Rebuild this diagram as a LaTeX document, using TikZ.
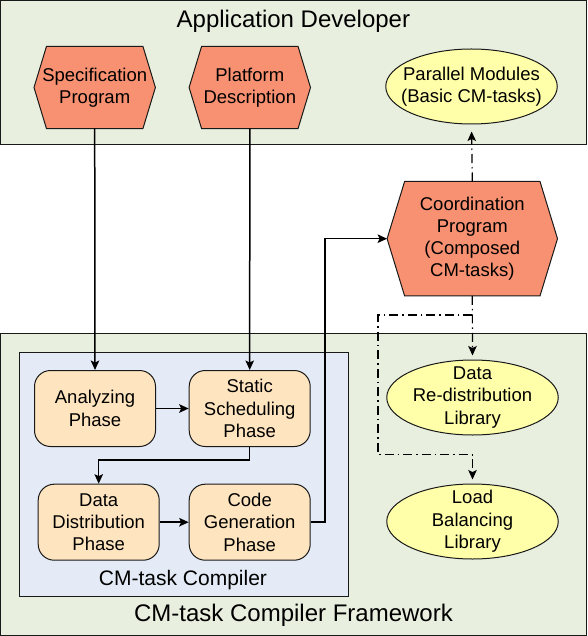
\documentclass[tikz,border=0pt]{standalone}
\usepackage{fontspec}
\setmainfont{Liberation Sans}
\usetikzlibrary{arrows.meta,calc,shapes.geometric}
\definecolor{panelfill}{RGB}{233,239,223}
\definecolor{compfill}{RGB}{228,235,246}
\definecolor{phasefill}{RGB}{255,229,191}
\definecolor{hexfill}{RGB}{248,145,113}
\definecolor{ellfill}{RGB}{255,255,170}
\definecolor{linecol}{RGB}{25,25,25}
\pgfdeclarelayer{panels}
\pgfdeclarelayer{hexl}
\pgfsetlayers{panels,hexl,main}
\newcommand\myhex[2]{%
  \begin{pgfonlayer}{hexl}
  \draw[hexline] (#1.west) -- ([xshift=#2pt]#1.north west) -- ([xshift=-#2pt]#1.north east)
    -- (#1.east) -- ([xshift=-#2pt]#1.south east) -- ([xshift=#2pt]#1.south west) -- cycle;
  \end{pgfonlayer}}
\begin{document}
\begin{tikzpicture}[x=1pt,y=-1pt,
  txt/.style={font=\fontsize{18.5}{22.3}\selectfont, align=center, inner sep=0pt, text=black},
  hexline/.style={draw=linecol, line width=1pt, fill=hexfill},
  panel/.style={draw=linecol, line width=1pt, fill=panelfill},
  phase/.style={txt, draw=linecol, line width=1pt, fill=phasefill, rounded corners=16pt,
    minimum width=121pt, minimum height=76pt},
  ell/.style={txt, ellipse, draw=linecol, line width=1pt, fill=ellfill,
    minimum width=171.5pt, minimum height=75pt, inner xsep=-10pt, inner ysep=-5pt},
  tip/.style={-{Stealth[length=9.5pt,width=8.5pt,inset=2pt]}},
  conn/.style={draw=black, line width=1.5pt, tip},
  dashdot/.style={draw=black, line width=1.2pt, dash pattern=on 9pt off 4pt on 1.5pt off 4pt},
]
\useasboundingbox (0,0) rectangle (587,636);
\begin{pgfonlayer}{panels}
  \path[panel] (0.5,0.5) rectangle (586.3,144.5);
  \path[panel] (0.5,333.3) rectangle (586.3,635.3);
  \path[draw=linecol, line width=1pt, fill=compfill] (19.3,352.7) rectangle (348.3,596.7);
\end{pgfonlayer}

% titles
\node[txt, font=\fontsize{24}{28}\selectfont, anchor=base] (apptitle) at (293.4,28) {Application Developer};
\node[txt, font=\fontsize{24}{28}\selectfont, anchor=base] (fwtitle) at (293.5,621.7) {CM-task Compiler Framework};
\node[txt, font=\fontsize{21}{25}\selectfont, anchor=base] (comptitle) at (183,585) {CM-task Compiler};

% hexagons
\node[txt, minimum width=121pt, minimum height=82pt] (spec) at (94.7,87.5) {Specification\\Program};
\myhex{spec}{12.5}
\node[txt, minimum width=121pt, minimum height=82pt] (plat) at (249.8,87.5) {Platform\\Description};
\myhex{plat}{12.5}
\node[txt, minimum width=170pt, minimum height=114pt] (coord) at (472.3,238.7) {Coordination\\Program\\(Composed\\CM-tasks)};
\myhex{coord}{17.5}

% ellipses
\node[ell] (pm) at (471.5,86.5) {Parallel Modules\\(Basic CM-tasks)};
\node[ell] (dr) at (472.5,397.5) {Data\\Re-distribution\\Library};
\node[ell] (lb) at (472.5,521.5) {Load\\Balancing\\Library};

% phases
\node[phase] (ana) at (95,408.5) {Analyzing\\Phase};
\node[phase] (stat) at (249.7,408.5) {Static\\Scheduling\\Phase};
\node[phase] (dd) at (98.7,522.2) {Data\\Distribution\\Phase};
\node[phase] (cg) at (249.7,522.2) {Code\\Generation\\Phase};

% solid connectors
\draw[conn] (spec.south) -- (ana.north);
\draw[conn] (plat.south) -- (stat.north);
\draw[conn] (ana.east) -- (stat.west);
\draw[conn] (stat.south) -- ++(0,13) -| (dd.north);
\draw[conn] (dd.east) -- (cg.east -| cg.west);
\draw[conn] (cg.east) -- ++(14.5,0) |- (coord.west);

% dash-dot connectors
\draw[dashdot, tip, shorten >=7pt] (coord.north) -- (pm.south);
\draw[dashdot, tip, shorten >=4pt] (coord.south) -- (dr.north);
\draw[dashdot, tip, shorten >=4pt] ($(coord.south)+(0,19)$) -- ++(-94.3,0) |- ($(lb.north)+(0,-29)$) -- (lb.north);
\end{tikzpicture}
\end{document}
